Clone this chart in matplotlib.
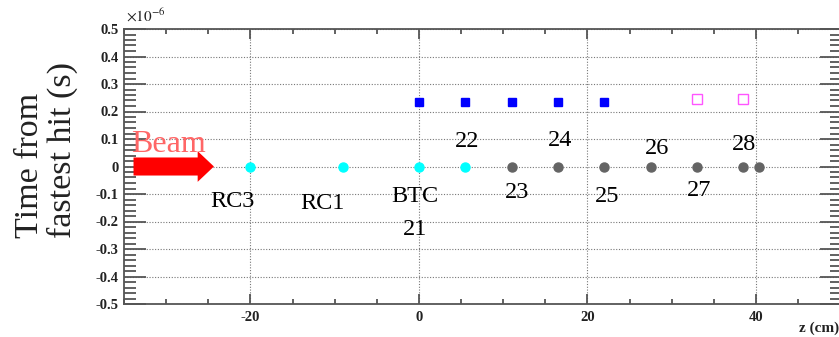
import numpy as np
import matplotlib
matplotlib.use('Agg')
import matplotlib.pyplot as plt
from matplotlib.ticker import MultipleLocator, FuncFormatter

plt.rcParams['mathtext.fontset'] = 'stix'

# hit positions along the beam (cm) and times from fastest hit (s)
z_cyan = [-20.0, -9.0, 0.0, 5.5]
t_cyan = [0.0, 0.0, 0.0, 0.0]
z_grey = [11.0, 16.5, 22.0, 27.5, 33.0, 38.5, 40.3]
t_grey = [0.0, 0.0, 0.0, 0.0, 0.0, 0.0, 0.0]
z_blue = [0.0, 5.5, 11.0, 16.5, 22.0]
t_blue = [0.236e-6, 0.236e-6, 0.236e-6, 0.236e-6, 0.236e-6]
z_magenta = [33.0, 38.5]
t_magenta = [0.245e-6, 0.245e-6]

# detector labels
label_text = ['RC3', 'RC1', 'BTC', '21', '22', '23', '24', '25', '26', '27', '28']
label_z = [-22.1, -11.4, -0.5, -0.5, 5.7, 11.6, 16.7, 22.3, 28.3, 33.2, 38.6]
label_t = [-0.128e-6, -0.133e-6, -0.11e-6, -0.23e-6, 0.09e-6, -0.096e-6,
           0.096e-6, -0.11e-6, 0.064e-6, -0.089e-6, 0.081e-6]

W, H = 839, 337
fig = plt.figure(figsize=(W / 100, H / 100), dpi=100)
ax = fig.add_axes([124 / W, 1 - 304 / H, (842 - 124) / W, (304 - 29) / H])

ax.set_xlim(-35, 50.2)
ax.set_ylim(-0.5e-6, 0.5e-6)

ax.grid(True, which='major', color='#777777', lw=0.8, ls=(0, (1, 1.5)))
ax.set_axisbelow(True)

ax.plot(z_cyan, t_cyan, 'o', color='#00ffff', ms=6.5, mec='#00ffff', zorder=3)
ax.plot(z_grey, t_grey, 'o', color='#646464', ms=6.5, mec='#646464', zorder=3)
ax.plot(z_blue, t_blue, 's', color='#0000ff', ms=6.2, mec='#0000ff', zorder=3)
ax.plot(z_magenta, t_magenta, 's', mfc='none', mec='#ff55ff', ms=7, mew=1.0, zorder=3)

for s, x, y in zip(label_text, label_z, label_t):
    ax.text(x, y, s, ha='center', va='center', fontsize=17.5,
            family='Liberation Serif', color='black')

# beam arrow
ax.annotate('', xy=(-24.0, 0), xytext=(-34.2, 0),
            arrowprops=dict(arrowstyle='simple,head_length=0.9,head_width=1.7,tail_width=1.0',
                            color='#ff0000', lw=0, mutation_scale=13),
            zorder=4)
ax.text(-34.2, 0.052e-6, 'Beam', ha='left', va='baseline', fontsize=23,
        family='Liberation Serif', color='#ff6666')

# axes styling
for sp in ax.spines.values():
    sp.set_color('#555555')
    sp.set_linewidth(1.3)
ax.xaxis.set_major_locator(MultipleLocator(20))
ax.xaxis.set_minor_locator(MultipleLocator(5))
ax.yaxis.set_major_locator(MultipleLocator(0.1e-6))
ax.yaxis.set_minor_locator(MultipleLocator(0.02e-6))
ax.tick_params(axis='both', which='both', direction='in', top=True, right=True,
               color='#555555', width=1.3)
ax.tick_params(axis='x', which='major', length=7, pad=5)
ax.tick_params(axis='x', which='minor', length=3.6)
ax.tick_params(axis='y', which='major', length=16, pad=4)
ax.tick_params(axis='y', which='minor', length=8.5)


def yfmt(v, pos):
    v = round(v / 1e-6, 1)
    return '0' if v == 0 else ('%g' % v)


ax.yaxis.set_major_formatter(FuncFormatter(yfmt))
ax.xaxis.set_major_formatter(FuncFormatter(lambda v, p: '%d' % round(v)))
for lab in ax.get_xticklabels() + ax.get_yticklabels():
    lab.set_fontfamily('Liberation Serif')
    lab.set_fontweight('bold')
    lab.set_fontsize(10.5)
    lab.set_color('#222222')

fig.text(126 / W, 1 - 22 / H, r'$\times10^{-6}$', fontsize=11, ha='left', va='baseline',
         color='#222222')
fig.text(839 / W, 1 - 335 / H, 'z (cm)', fontsize=11, ha='right', va='bottom',
         family='Liberation Serif', fontweight='bold', color='#222222')

fig.text(46 / W, 1 - 238 / H, 'Time from\nfastest hit (s)', rotation=90, fontsize=24.5,
         ha='center', va='bottom', multialignment='left', linespacing=1.08,
         family='Liberation Serif', color='#222222')

fig.savefig('out.png', dpi=100)
